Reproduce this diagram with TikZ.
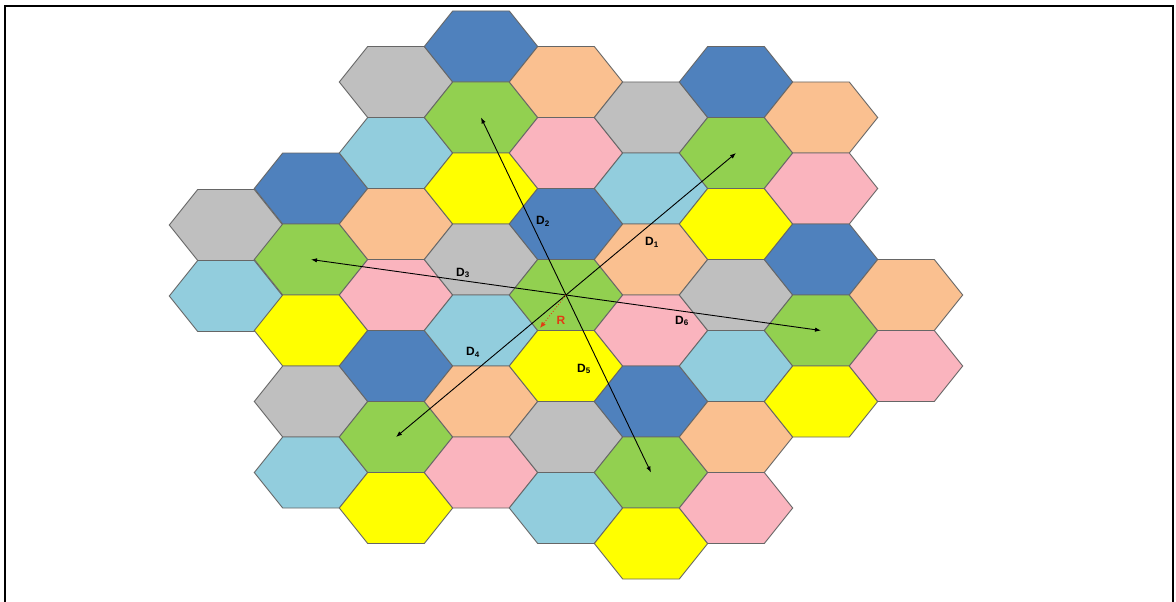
\documentclass[tikz,border=0pt]{standalone}
\usepackage{fontspec}
\setmainfont{Liberation Sans}
\usepackage{tikz}
\usetikzlibrary{arrows.meta,calc}
\definecolor{blu}{RGB}{79,129,189}
\definecolor{gry}{RGB}{191,191,191}
\definecolor{pch}{RGB}{250,192,144}
\definecolor{grn}{RGB}{146,208,80}
\definecolor{pnk}{RGB}{250,180,190}
\definecolor{lbl}{RGB}{146,205,221}
\definecolor{yel}{RGB}{255,255,0}
\definecolor{rlbl}{RGB}{225,60,20}
\tikzset{cell/.style={draw=black!60,line width=0.9pt},
  dist/.style={line width=0.9pt,-{Latex[length=6pt,width=4.5pt]}},
  dlabel/.style={font=\fontsize{12}{14}\selectfont\bfseries,inner sep=0pt}}

\begin{document}
\begin{tikzpicture}[x=1pt,y=-1pt]
  \useasboundingbox (0,0) rectangle (1176,602);
  \draw[line width=2pt] (5,602) -- (5,6) -- (1173,6) -- (1173,602);
  \foreach \i/\top/\cols in {0/225/{gry,lbl}, 1/188.5/{blu,grn,yel,gry,lbl}, 2/82/{gry,lbl,pch,pnk,blu,grn,yel}, 3/46.5/{blu,grn,yel,gry,lbl,pch,pnk}, 4/82/{pch,pnk,blu,grn,yel,gry,lbl}, 5/117.5/{gry,lbl,pch,pnk,blu,grn,yel}, 6/82/{blu,grn,yel,gry,lbl,pch,pnk}, 7/117.5/{pch,pnk,blu,grn,yel}, 8/295/{pch,pnk}}
    \foreach \c [count=\k from 0] in \cols {
      \coordinate (h\i-\k) at ({566+85*(\i-4)},{\top+71*\k});
      \draw[cell,fill=\c] (h\i-\k) +(-56.7,0) -- +(-28.3,35.5) -- +(28.3,35.5) -- +(56.7,0) -- +(28.3,-35.5) -- +(-28.3,-35.5) -- cycle;
    }
  \draw[dist] (h4-3) -- (h6-1); \draw[dist] (h4-3) -- (h3-1); \draw[dist] (h4-3) -- (h1-1);
  \draw[dist] (h4-3) -- (h2-5); \draw[dist] (h4-3) -- (h5-5); \draw[dist] (h4-3) -- (h7-3);
  \coordinate (vx) at ($(h4-3)+(-26,33)$);
  \draw[rlbl,dotted,line width=0.9pt,-{Latex[length=6pt,width=5pt]}] (h4-3) -- (vx);
  \node[dlabel,text=rlbl] (r) at (561,320) {R};
  \node[dlabel] (d1) at (652,242) {D\textsubscript{1}}; \node[dlabel] (d2) at (543,221) {D\textsubscript{2}};
  \node[dlabel] (d3) at (463,273) {D\textsubscript{3}}; \node[dlabel] (d4) at (473,352) {D\textsubscript{4}};
  \node[dlabel] (d5) at (584,369) {D\textsubscript{5}}; \node[dlabel] (d6) at (682,321) {D\textsubscript{6}};
\end{tikzpicture}
\end{document}
